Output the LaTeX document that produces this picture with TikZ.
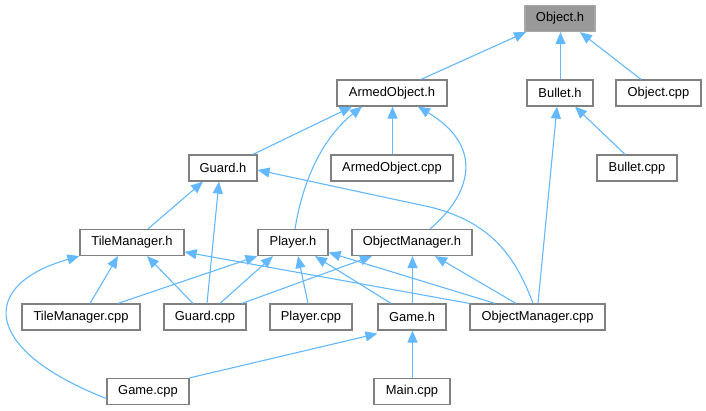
\documentclass[tikz,border=0pt]{standalone}
\usepackage{fontspec}
\setmainfont{Liberation Sans}
\usetikzlibrary{arrows.meta}
\definecolor{edgeblue}{HTML}{63B8FF}
\definecolor{boxline}{HTML}{808080}
\definecolor{rootfill}{HTML}{999999}
\definecolor{rootline}{HTML}{A8A8A8}
\tikzset{
  file/.style={draw=boxline, line width=1.2pt, fill=white, minimum height=26pt, inner sep=0pt, font=\fontsize{12.9}{14}\selectfont},
  rootfile/.style={file, fill=rootfill, draw=rootline},
  dep/.style={draw=edgeblue, line width=1.1pt, -{Triangle[length=12pt,width=10pt]}},
}
\begin{document}
\begin{tikzpicture}[x=1pt,y=-1pt]
\useasboundingbox (0,0) rectangle (706,411);
% nodes
\node[rootfile, minimum width=70pt]  (obj)     at (560,18.5)  {Object.h};
\node[file, minimum width=110pt]     (ao)      at (392,93)    {ArmedObject.h};
\node[file, minimum width=66pt]      (bh)      at (560,93)    {Bullet.h};
\node[file, minimum width=85pt]      (ocpp)    at (658.5,93)  {Object.cpp};
\node[file, minimum width=68pt]      (gh)      at (223,168)   {Guard.h};
\node[file, minimum width=122pt]     (aocpp)   at (392,168)   {ArmedObject.cpp};
\node[file, minimum width=80pt]      (bcpp)    at (637,168)   {Bullet.cpp};
\node[file, minimum width=104pt]     (tmh)     at (132,242.5) {TileManager.h};
\node[file, minimum width=70pt]      (ph)      at (293,242.5) {Player.h};
\node[file, minimum width=120pt]     (omh)     at (412,242.5) {ObjectManager.h};
\node[file, minimum width=118pt]     (tmcpp)   at (81,317)    {TileManager.cpp};
\node[file, minimum width=82pt]      (gcpp)    at (205,317)   {Guard.cpp};
\node[file, minimum width=82pt]      (pcpp)    at (311,317)   {Player.cpp};
\node[file, minimum width=68pt]      (gameh)   at (412,317)   {Game.h};
\node[file, minimum width=135pt]     (omcpp)   at (537.5,317) {ObjectManager.cpp};
\node[file, minimum width=82pt]      (gamecpp) at (148,391.5) {Game.cpp};
\node[file, minimum width=76pt]      (maincpp) at (412,391.5) {Main.cpp};
% edges
\draw[dep] ([xshift=29pt]ao.north) -- ([xshift=-34pt]obj.south);
\draw[dep] ([xshift=0.5pt]bh.north) -- ([xshift=0.5pt]obj.south);
\draw[dep] ([xshift=-17.5pt]ocpp.north) -- ([xshift=20pt]obj.south);
\draw[dep] ([xshift=30pt]gh.north) -- ([xshift=-40pt]ao.south);
\draw[dep] ([xshift=2pt]ph.north) .. controls (302,185) and (320,140) .. ([xshift=-30pt]ao.south);
\draw[dep] ([xshift=0.5pt]aocpp.north) -- ([xshift=0.5pt]ao.south);
\draw[dep] ([xshift=18pt]omh.north) .. controls (465,200) and (490,150) .. ([xshift=26pt]ao.south);
\draw[dep] ([xshift=-12pt]bcpp.north) -- ([xshift=15pt]bh.south);
\draw[dep] ([xshift=0.5pt]omcpp.north) -- ([xshift=-3pt]bh.south);
\draw[dep] ([xshift=16pt]tmh.north) -- ([xshift=-20pt]gh.south);
\draw[dep] ([xshift=2pt]gcpp.north) -- ([xshift=-4pt]gh.south);
\draw[dep] ([xshift=-4.5pt]omcpp.north) .. controls (515,255) and (490,222) .. (430,207) -- ([yshift=-2pt]gh.east);
\draw[dep] ([xshift=9pt]tmcpp.north) -- ([xshift=-14pt]tmh.south);
\draw[dep] ([xshift=-12pt]gcpp.north) -- ([xshift=15pt]tmh.south);
\draw[dep] ([yshift=-7pt]gamecpp.west) .. controls (-18,350) and (-22,285) .. (tmh.south west);
\draw[dep] (omcpp.north west) -- ([yshift=-9.5pt]tmh.east);
\draw[dep] ([xshift=37pt]tmcpp.north) -- (ph.south west);
\draw[dep] ([xshift=15pt]gcpp.north) -- ([xshift=-20pt]ph.south);
\draw[dep] ([xshift=-3pt]pcpp.north) -- ([xshift=5pt]ph.south);
\draw[dep] ([xshift=-21pt]gameh.north) -- ([xshift=22pt]ph.south);
\draw[dep] ([xshift=-42.5pt]omcpp.north) -- ([yshift=-10pt]ph.east);
\draw[dep] ([xshift=37pt]gcpp.north) -- ([xshift=-40pt]omh.south);
\draw[dep] ([xshift=0.5pt]gameh.north) -- ([xshift=0.5pt]omh.south);
\draw[dep] ([xshift=-21.5pt]omcpp.north) -- ([xshift=23pt]omh.south);
\draw[dep] (gamecpp.north east) -- ([yshift=-3pt]gameh.south west);
\draw[dep] ([xshift=0.5pt]maincpp.north) -- ([xshift=0.5pt]gameh.south);
\end{tikzpicture}
\end{document}
